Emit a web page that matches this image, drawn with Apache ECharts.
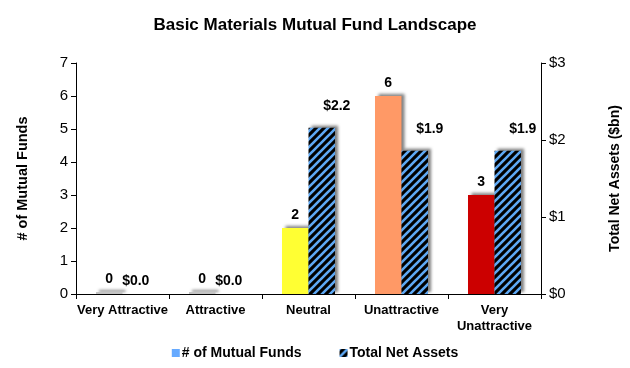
<!DOCTYPE html>
<html><head><meta charset="utf-8">
<script src="https://cdn.jsdelivr.net/npm/echarts@6/dist/echarts.min.js"></script>
<style>html,body{margin:0;padding:0;background:#fff}#c{width:630px;height:368px}</style>
</head><body><div id="c"></div>
<script>
const categories = ['Very Attractive', 'Attractive', 'Neutral', 'Unattractive', 'Very\nUnattractive'];
const fundCounts = [0, 0, 2, 6, 3];
const netAssets = [0, 0, 2.16, 1.86, 1.86];
const leftTicks = [0, 7, 1];
const rightTicks = [0, 3, 1];

const fundColors = ['#c4c4c4', '#c4c4c4', '#ffff33', '#ff9966', '#cc0000'];
const FONT = '"Liberation Sans", Arial, sans-serif';

function hatch() {
  const n = 8;
  const cv = document.createElement('canvas');
  cv.width = n; cv.height = n;
  const g = cv.getContext('2d');
  g.fillStyle = '#000'; g.fillRect(0, 0, n, n);
  g.strokeStyle = '#5ea8f4'; g.lineWidth = 2.6;
  g.beginPath();
  g.moveTo(-1, n + 1); g.lineTo(n + 1, -1);
  g.moveTo(-3, 3); g.lineTo(3, -3);
  g.moveTo(n - 3, n + 3); g.lineTo(n + 3, n - 3);
  g.stroke();
  return { image: cv, repeat: 'repeat' };
}
const hatchFill = hatch();

const shadow = { shadowColor: 'rgba(0,0,0,0.5)', shadowBlur: 3, shadowOffsetX: 3, shadowOffsetY: -2 };

const chart = echarts.init(document.getElementById('c'));
chart.setOption({
  animation: false,
  textStyle: { fontFamily: FONT },
  title: {
    text: 'Basic Materials Mutual Fund Landscape', left: 'center', top: 12,
    textStyle: { fontFamily: FONT, fontWeight: 'bold', fontSize: 17, color: '#000' }
  },
  grid: { left: 76, right: 87, top: 63, bottom: 74 },
  legend: {
    bottom: 3, left: 'center', itemWidth: 8, itemHeight: 8, itemGap: 38,
    icon: 'rect',
    itemStyle: { shadowBlur: 0, shadowOffsetX: 0, shadowOffsetY: 0, shadowColor: 'transparent' },
    textStyle: { fontFamily: FONT, fontWeight: 'bold', fontSize: 14, color: '#000', padding: [0, 0, 0, -3] },
    data: ['# of Mutual Funds', 'Total Net Assets']
  },
  xAxis: {
    type: 'category', data: categories,
    axisLine: { lineStyle: { color: '#000', width: 1 } },
    axisTick: { show: true, length: 5, lineStyle: { color: '#000' } },
    axisLabel: { fontFamily: FONT, fontWeight: 'bold', fontSize: 13, color: '#000', margin: 8, lineHeight: 16, interval: 0 }
  },
  yAxis: [
    {
      type: 'value', min: leftTicks[0], max: leftTicks[1], interval: leftTicks[2],
      name: '# of Mutual Funds', nameLocation: 'middle', nameGap: 46, nameRotate: 90,
      nameTextStyle: { fontFamily: FONT, fontWeight: 'bold', fontSize: 14.5, color: '#000' },
      axisLine: { show: true, lineStyle: { color: '#000' } },
      axisTick: { show: true, length: 5, lineStyle: { color: '#000' } },
      splitLine: { show: false },
      axisLabel: { fontFamily: FONT, fontSize: 15, color: '#000', margin: 8 }
    },
    {
      type: 'value', min: rightTicks[0], max: rightTicks[1], interval: rightTicks[2],
      name: 'Total Net Assets ($bn)', nameLocation: 'middle', nameGap: 67, nameRotate: 90,
      nameTextStyle: { fontFamily: FONT, fontWeight: 'bold', fontSize: 14, color: '#000' },
      axisLine: { show: true, lineStyle: { color: '#000' } },
      axisTick: { show: true, length: 5, lineStyle: { color: '#000' } },
      splitLine: { show: false },
      axisLabel: { fontFamily: FONT, fontSize: 15, color: '#000', margin: 8, formatter: v => '$' + v }
    }
  ],
  series: [
    {
      name: '# of Mutual Funds', type: 'bar', yAxisIndex: 0,
      barGap: '0%', barCategoryGap: '43%', barMinHeight: 2,
      itemStyle: Object.assign({ color: '#66aaff' }, shadow),
      label: { show: true, position: 'top', distance: 6, fontFamily: FONT, fontWeight: 'bold', fontSize: 14, color: '#000' },
      data: fundCounts.map((v, i) => ({ value: v, itemStyle: { color: fundColors[i] } }))
    },
    {
      name: 'Total Net Assets', type: 'bar', yAxisIndex: 1,
      barGap: '0%', barCategoryGap: '43%',
      itemStyle: Object.assign({ color: hatchFill }, shadow),
      label: {
        show: true, position: 'top', distance: 6, fontFamily: FONT, fontWeight: 'bold', fontSize: 14, color: '#000',
        formatter: p => '$' + p.value.toFixed(1)
      },
      data: netAssets.map(v => v > 0 ? { value: v, label: { offset: [15, -9] } } : { value: v })
    }
  ]
});
</script>
</body></html>
